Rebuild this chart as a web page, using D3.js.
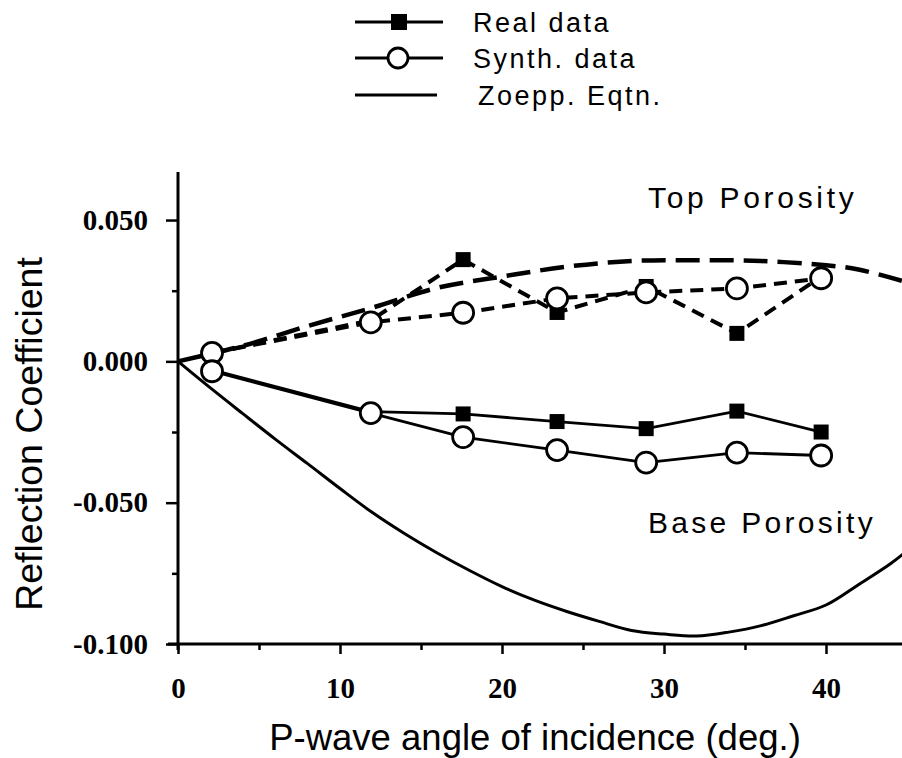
<!DOCTYPE html>
<html>
<head>
<meta charset="utf-8">
<script src="https://cdn.jsdelivr.net/npm/d3@7"></script>
<style>
  html, body { margin: 0; padding: 0; background: #fff; }
  svg { display: block; }
  .tick-label { font-family: "Liberation Serif", "DejaVu Serif", serif; font-weight: bold; }
  .sans { font-family: "Liberation Sans", Arial, Helvetica, sans-serif; }
</style>
</head>
<body>
<svg id="chart" width="902" height="758"></svg>
<script>
// Incidence angles (degrees) of the measured / synthetic picks
const angles = [2.1, 11.9, 17.6, 23.4, 28.9, 34.5, 39.7];

// Top-of-porosity reflection coefficients
const topReal  = [0.0030, 0.0145, 0.0360, 0.0173, 0.0265, 0.0099, 0.0300];
const topSynth = [0.0030, 0.0138, 0.0172, 0.0223, 0.0244, 0.0258, 0.0294];

// Base-of-porosity reflection coefficients
const baseReal  = [-0.0030, -0.0178, -0.0186, -0.0213, -0.0238, -0.0176, -0.0250];
const baseSynth = [-0.0035, -0.0183, -0.0268, -0.0314, -0.0358, -0.0323, -0.0333];

// Zoeppritz equation curves
const zoepTopAngles = [0, 4, 8, 12, 16, 20, 24, 28, 32, 36, 40, 42, 45];
const zoepTop       = [0, 0.0055, 0.0125, 0.0190, 0.0260, 0.0300, 0.0335, 0.0355, 0.0358, 0.0355, 0.0340, 0.0325, 0.0280];

const zoepBaseAngles = [0, 2, 4, 6, 8, 10, 12, 14, 16, 18, 20, 22, 24, 26, 28, 30, 32, 34, 36, 38, 40, 42, 44, 45];
const zoepBase       = [0, -0.0094, -0.0185, -0.0275, -0.0362, -0.0450, -0.0535, -0.0610, -0.0678, -0.0740,
                        -0.0797, -0.0845, -0.0885, -0.0920, -0.0952, -0.0965, -0.0972, -0.0958, -0.0935, -0.0900,
                        -0.0862, -0.0790, -0.0715, -0.0670];

// Axis ticks and labels
const xMajorTicks = [0, 10, 20, 30, 40];
const xMinorTicks = [5, 15, 25, 35];
const yMajorTicks = [-0.1, -0.05, 0, 0.05];
const yMinorTicks = [-0.075, -0.025, 0.025];

const legendLabels = ["Real data", "Synth. data", "Zoepp. Eqtn."];
const regionLabels = ["Top Porosity", "Base Porosity"];
const xTitle = "P-wave angle of incidence (deg.)";
const yTitle = "Reflection Coefficient";

const svg = d3.select("#chart");

const x = d3.scaleLinear().domain([0, 45]).range([178, 907]);
const y = d3.scaleLinear().domain([-0.1, 0.067]).range([644, 172]);

const yFmt = d3.formatLocale({decimal: ".", thousands: ",", grouping: [3], currency: ["", ""], minus: "-"}).format(".3f");

// ---- axes ----
const xAxisG = svg.append("g").attr("transform", `translate(0,${y(-0.1)})`);
xAxisG.call(d3.axisBottom(x).tickValues(xMajorTicks).tickSize(10).tickPadding(23).tickFormat(d3.format("d")));
xAxisG.append("g").call(d3.axisBottom(x).tickValues(xMinorTicks).tickSize(6).tickFormat(""));

const yAxisG = svg.append("g").attr("transform", `translate(${x(0)},0)`);
yAxisG.call(d3.axisLeft(y).tickValues(yMajorTicks).tickSize(12).tickPadding(18).tickFormat(yFmt));
yAxisG.append("g").call(d3.axisLeft(y).tickValues(yMinorTicks).tickSize(6).tickFormat(""));

[xAxisG, yAxisG].forEach(g => {
  g.selectAll(".domain").remove();
  g.selectAll(".tick line").attr("stroke", "#000").attr("stroke-width", 2.5);
  g.selectAll(".tick text").attr("class", "tick-label").attr("fill", "#000").attr("font-size", 29);
});
yAxisG.selectAll(".tick text").attr("letter-spacing", 0);

// axis lines (crossing slightly at the corner)
svg.append("line").attr("x1", x(0)).attr("x2", x(0)).attr("y1", y(0.067)).attr("y2", y(-0.1) + 6)
  .attr("stroke", "#000").attr("stroke-width", 3);
svg.append("line").attr("x1", x(0) - 10).attr("x2", x(45)).attr("y1", y(-0.1)).attr("y2", y(-0.1))
  .attr("stroke", "#000").attr("stroke-width", 3);

// ---- curves ----
const pts = (xs, ys) => xs.map((a, i) => [a, ys[i]]);
const lineLin = d3.line().x(d => x(d[0])).y(d => y(d[1]));
const lineSmooth = d3.line().x(d => x(d[0])).y(d => y(d[1])).curve(d3.curveCatmullRom);

const plot = svg.append("g");

// Zoeppritz curves
plot.append("path").datum(pts(zoepTopAngles, zoepTop)).attr("d", lineSmooth)
  .attr("fill", "none").attr("stroke", "#000").attr("stroke-width", 4.5).attr("stroke-dasharray", "24,10");
plot.append("path").datum(pts(zoepBaseAngles, zoepBase)).attr("d", lineSmooth)
  .attr("fill", "none").attr("stroke", "#000").attr("stroke-width", 3);

// Top porosity data (dashed)
plot.append("path").datum(pts(angles, topReal)).attr("d", lineLin)
  .attr("fill", "none").attr("stroke", "#000").attr("stroke-width", 4).attr("stroke-dasharray", "13,8");
plot.append("path").datum(pts(angles, topSynth)).attr("d", lineLin)
  .attr("fill", "none").attr("stroke", "#000").attr("stroke-width", 4).attr("stroke-dasharray", "13,8");

// Base porosity data (solid)
plot.append("path").datum(pts(angles, baseReal)).attr("d", lineLin)
  .attr("fill", "none").attr("stroke", "#000").attr("stroke-width", 2.8);
plot.append("path").datum(pts(angles, baseSynth)).attr("d", lineLin)
  .attr("fill", "none").attr("stroke", "#000").attr("stroke-width", 2.8);

// markers: squares for real data, circles for synthetic data
const sq = 15;
[topReal, baseReal].forEach(vals => {
  plot.append("g").selectAll("rect").data(pts(angles, vals)).join("rect")
    .attr("x", d => x(d[0]) - sq / 2).attr("y", d => y(d[1]) - sq / 2)
    .attr("width", sq).attr("height", sq).attr("fill", "#000");
});
[topSynth, baseSynth].forEach(vals => {
  plot.append("g").selectAll("circle").data(pts(angles, vals)).join("circle")
    .attr("cx", d => x(d[0])).attr("cy", d => y(d[1])).attr("r", 10.5)
    .attr("fill", "#fff").attr("stroke", "#000").attr("stroke-width", 2.8);
});

// ---- region labels ----
svg.append("text").attr("class", "sans").attr("x", 648).attr("y", 208)
  .attr("font-size", 30).attr("letter-spacing", 3.7).text(regionLabels[0]);
svg.append("text").attr("class", "sans").attr("x", 648).attr("y", 533)
  .attr("font-size", 30).attr("letter-spacing", 3.3).text(regionLabels[1]);

// ---- legend ----
const legY = [22, 58, 95];
const leg = svg.append("g");
leg.append("line").attr("x1", 355).attr("x2", 443).attr("y1", legY[0]).attr("y2", legY[0]).attr("stroke", "#000").attr("stroke-width", 2.8);
leg.append("rect").attr("x", 399 - 8).attr("y", legY[0] - 8).attr("width", 16).attr("height", 16).attr("fill", "#000");
leg.append("line").attr("x1", 355).attr("x2", 443).attr("y1", legY[1]).attr("y2", legY[1]).attr("stroke", "#000").attr("stroke-width", 2.8);
leg.append("circle").attr("cx", 398).attr("cy", legY[1]).attr("r", 10).attr("fill", "#fff").attr("stroke", "#000").attr("stroke-width", 2.8);
leg.append("line").attr("x1", 355).attr("x2", 437).attr("y1", legY[2]).attr("y2", legY[2]).attr("stroke", "#000").attr("stroke-width", 2.8);
const legX = [473, 473, 478];
legendLabels.forEach((t, i) => {
  leg.append("text").attr("class", "sans").attr("x", legX[i]).attr("y", legY[i] + 10)
    .attr("font-size", 27).attr("letter-spacing", 2.5).text(t);
});

// ---- axis titles ----
svg.append("text").attr("class", "sans").attr("x", 535).attr("y", 750)
  .attr("text-anchor", "middle").attr("font-size", 36.5).text(xTitle);
svg.append("text").attr("class", "sans")
  .attr("transform", `translate(42,${434}) rotate(-90)`)
  .attr("text-anchor", "middle").attr("font-size", 37.5).text(yTitle);
</script>
</body>
</html>
